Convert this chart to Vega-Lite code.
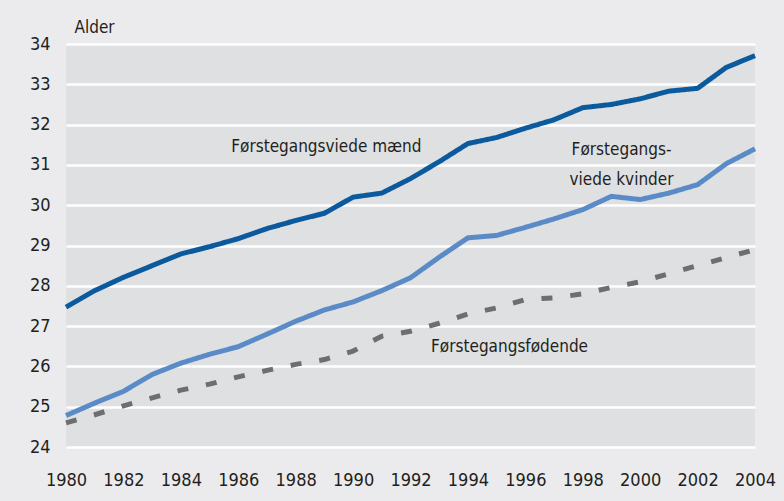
{
  "$schema": "https://vega.github.io/schema/vega-lite/v6.json",
  "width": 689,
  "height": 403,
  "autosize": {"type": "none"},
  "padding": {"left": 66, "top": 44, "right": 29, "bottom": 54},
  "background": "#ebebed",
  "config": {
    "view": {"fill": "#dfe0e2", "stroke": null},
    "font": "DejaVu Sans Condensed, sans-serif",
    "axis": {"labelFont": "DejaVu Sans Condensed, sans-serif", "labelColor": "#231f20", "labelFontSize": 18, "titleFont": "DejaVu Sans Condensed, sans-serif", "titleColor": "#231f20", "titleFontWeight": "normal", "titleFontSize": 17}
  },
  "datasets": {
    "series": [
      {"year": 1980, "s": "m", "v": 27.47}, {"year": 1981, "s": "m", "v": 27.88}, {"year": 1982, "s": "m", "v": 28.21}, {"year": 1983, "s": "m", "v": 28.5}, {"year": 1984, "s": "m", "v": 28.79}, {"year": 1985, "s": "m", "v": 28.97}, {"year": 1986, "s": "m", "v": 29.17}, {"year": 1987, "s": "m", "v": 29.42}, {"year": 1988, "s": "m", "v": 29.62}, {"year": 1989, "s": "m", "v": 29.8}, {"year": 1990, "s": "m", "v": 30.2}, {"year": 1991, "s": "m", "v": 30.3}, {"year": 1992, "s": "m", "v": 30.66}, {"year": 1993, "s": "m", "v": 31.08}, {"year": 1994, "s": "m", "v": 31.53}, {"year": 1995, "s": "m", "v": 31.68}, {"year": 1996, "s": "m", "v": 31.91}, {"year": 1997, "s": "m", "v": 32.12}, {"year": 1998, "s": "m", "v": 32.42}, {"year": 1999, "s": "m", "v": 32.5}, {"year": 2000, "s": "m", "v": 32.64}, {"year": 2001, "s": "m", "v": 32.83}, {"year": 2002, "s": "m", "v": 32.9}, {"year": 2003, "s": "m", "v": 33.42}, {"year": 2004, "s": "m", "v": 33.71},
      {"year": 1980, "s": "k", "v": 24.78}, {"year": 1981, "s": "k", "v": 25.09}, {"year": 1982, "s": "k", "v": 25.38}, {"year": 1983, "s": "k", "v": 25.8}, {"year": 1984, "s": "k", "v": 26.08}, {"year": 1985, "s": "k", "v": 26.3}, {"year": 1986, "s": "k", "v": 26.49}, {"year": 1987, "s": "k", "v": 26.8}, {"year": 1988, "s": "k", "v": 27.12}, {"year": 1989, "s": "k", "v": 27.4}, {"year": 1990, "s": "k", "v": 27.6}, {"year": 1991, "s": "k", "v": 27.88}, {"year": 1992, "s": "k", "v": 28.2}, {"year": 1993, "s": "k", "v": 28.71}, {"year": 1994, "s": "k", "v": 29.19}, {"year": 1995, "s": "k", "v": 29.25}, {"year": 1996, "s": "k", "v": 29.45}, {"year": 1997, "s": "k", "v": 29.66}, {"year": 1998, "s": "k", "v": 29.89}, {"year": 1999, "s": "k", "v": 30.22}, {"year": 2000, "s": "k", "v": 30.14}, {"year": 2001, "s": "k", "v": 30.3}, {"year": 2002, "s": "k", "v": 30.51}, {"year": 2003, "s": "k", "v": 31.03}, {"year": 2004, "s": "k", "v": 31.4},
      {"year": 1980, "s": "f", "v": 24.6}, {"year": 1981, "s": "f", "v": 24.8}, {"year": 1982, "s": "f", "v": 25.02}, {"year": 1983, "s": "f", "v": 25.22}, {"year": 1984, "s": "f", "v": 25.41}, {"year": 1985, "s": "f", "v": 25.56}, {"year": 1986, "s": "f", "v": 25.74}, {"year": 1987, "s": "f", "v": 25.9}, {"year": 1988, "s": "f", "v": 26.05}, {"year": 1989, "s": "f", "v": 26.17}, {"year": 1990, "s": "f", "v": 26.38}, {"year": 1991, "s": "f", "v": 26.75}, {"year": 1992, "s": "f", "v": 26.87}, {"year": 1993, "s": "f", "v": 27.07}, {"year": 1994, "s": "f", "v": 27.3}, {"year": 1995, "s": "f", "v": 27.45}, {"year": 1996, "s": "f", "v": 27.66}, {"year": 1997, "s": "f", "v": 27.7}, {"year": 1998, "s": "f", "v": 27.8}, {"year": 1999, "s": "f", "v": 27.96}, {"year": 2000, "s": "f", "v": 28.1}, {"year": 2001, "s": "f", "v": 28.3}, {"year": 2002, "s": "f", "v": 28.5}, {"year": 2003, "s": "f", "v": 28.7}, {"year": 2004, "s": "f", "v": 28.9}
    ],
    "labels": [
      {"year": 1989.07, "v": 31.44, "t": "Førstegangsviede mænd"},
      {"year": 1999.35, "v": 31.37, "t": "Førstegangs-\nviede kvinder"},
      {"year": 1995.45, "v": 26.49, "t": "Førstegangsfødende"}
    ]
  },
  "encoding": {
    "x": {"field": "year", "type": "quantitative", "scale": {"domain": [1980, 2004], "nice": false, "zero": false},
      "axis": {"values": [1980, 1982, 1984, 1986, 1988, 1990, 1992, 1994, 1996, 1998, 2000, 2002, 2004], "format": "d", "grid": false, "domain": false, "ticks": false, "labelPadding": 24, "title": null, "labelFlush": false}},
    "y": {"field": "v", "type": "quantitative", "scale": {"domain": [24, 34], "nice": false, "zero": false},
      "axis": {"values": [24, 25, 26, 27, 28, 29, 30, 31, 32, 33, 34], "grid": true, "gridColor": "#ffffff", "gridWidth": 2.5, "gridOpacity": 1, "domain": false, "ticks": false, "labelPadding": 16, "title": "Alder", "titleAngle": 0, "titleAlign": "left", "titleBaseline": "middle", "titleX": 8, "titleY": -17}}
  },
  "layer": [
    {
      "data": {"name": "series"},
      "mark": {"type": "line", "strokeWidth": 5, "strokeCap": "butt", "strokeJoin": "round"},
      "encoding": {
        "color": {"field": "s", "type": "nominal", "scale": {"domain": ["m", "k", "f"], "range": ["#0b5a9e", "#5b8bc7", "#6d6e71"]}, "legend": null},
        "strokeDash": {"field": "s", "type": "nominal", "scale": {"domain": ["m", "k", "f"], "range": [[1, 0], [1, 0], [11, 18]]}, "legend": null}
      }
    },
    {
      "data": {"name": "labels"},
      "mark": {"type": "text", "fontSize": 17, "color": "#231f20", "align": "center", "baseline": "middle", "lineBreak": "\n", "lineHeight": 30},
      "encoding": {"text": {"field": "t"}}
    }
  ]
}
